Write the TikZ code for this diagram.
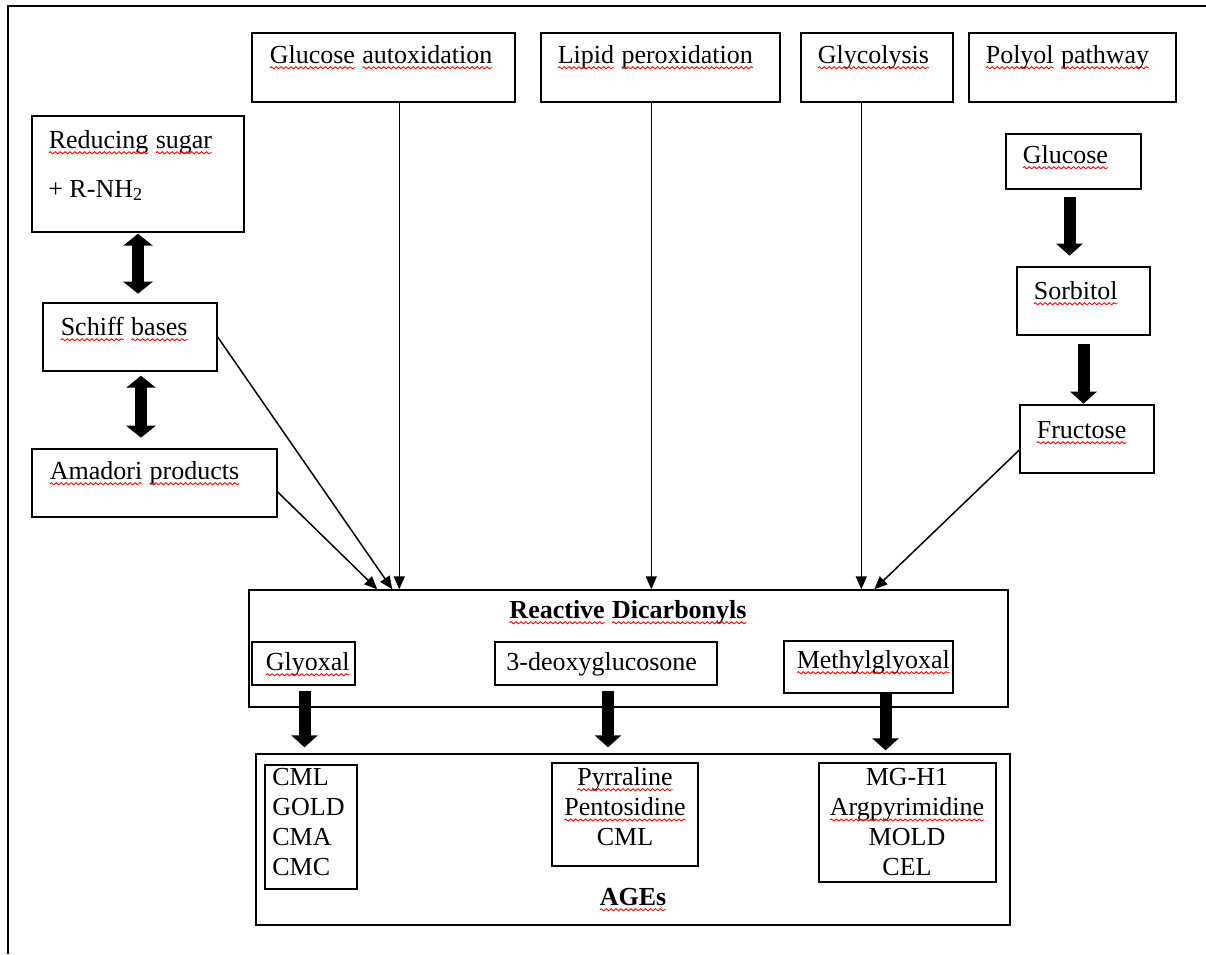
\documentclass[tikz,border=0pt]{standalone}
\usepackage{fontspec}
\setmainfont{Liberation Serif}
\usetikzlibrary{arrows.meta,calc,fit,decorations.pathmorphing}
\newcommand\fs{\fontsize{14.8pt}{17.2pt}\selectfont}
\newcommand\wavy[1]{\tikz[baseline=(w.base)]{\node[inner sep=0pt,outer sep=0pt,draw=none] (w) {#1};
    \draw[spell] ([yshift=-2.7pt]w.base west) -- ([yshift=-2.7pt]w.base east);}}
\tikzset{
  box/.style={
    draw,
    line width=0.8pt,
    inner sep=0pt
  },
  txt/.style={
    inner sep=0pt,
    font=\fs,
    anchor=base west
  },
  spell/.style={
    red,
    line width=0.5pt,
    decorate,
    decoration={snake,amplitude=0.6pt,segment length=2.8pt}
  },
  feed/.style={
    -{Triangle[width=0.22cm,length=0.26cm]},
    line width=0.85pt
  },
  fat/.style={
    -{Triangle[width=0.52cm,length=0.24cm]},
    line width=0.24cm
  },
  fatboth/.style={
    {Triangle[width=0.58cm,length=0.24cm]}-{Triangle[width=0.58cm,length=0.24cm]},
    line width=0.25cm
  }
}

\begin{document}
\begin{tikzpicture}[x=0.02cm,y=-0.02cm]
    \useasboundingbox (0,0) rectangle (1206,954);
    \draw[line width=0.8pt] (8,954) |- (1206,6);

    % sources on top
    \node[box, fit={(252,33) (515,102)}] (gauto) {};
    \node[box, fit={(541,33) (780,102)}] (lipid) {};
    \node[box, fit={(801,33) (953,102)}] (glycol) {};
    \node[box, fit={(969,33) (1176,102)}] (polyol) {};
    \node[txt] (gauto-t) at (269,63) {\wavy{Glucose} \wavy{autoxidation}};
    \node[txt] (lipid-t) at (557,63) {\wavy{Lipid} \wavy{peroxidation}};
    \node[txt] (glycol-t) at (817,63) {\wavy{Glycolysis}};
    \node[txt] (polyol-t) at (985,63) {\wavy{Polyol} \wavy{pathway}};

    % left column
    \node[box, fit={(32,116) (244,232)}] (reducing) {};
    \node[box, fit={(43,303) (217,371)}] (schiff) {};
    \node[box, fit={(32,449) (277,517)}] (amadori) {};
    \node[txt] (reducing-t) at (48,148) {\wavy{Reducing} \wavy{sugar}};
    \node[txt] (amine-t) at (48,197) {+ R-NH\textsubscript{2}};
    \node[txt] (schiff-t) at (60,335) {\wavy{Schiff} \wavy{bases}};
    \node[txt] (amadori-t) at (49,479) {\wavy{Amadori} \wavy{products}};

    % polyol column
    \node[box, fit={(1006,134) (1141,189)}] (glucose) {};
    \node[box, fit={(1017,267) (1150,335)}] (sorbitol) {};
    \node[box, fit={(1020,405) (1154,473)}] (fructose) {};
    \node[txt] (glucose-t) at (1022,163) {\wavy{Glucose}};
    \node[txt] (sorbitol-t) at (1033,299) {\wavy{Sorbitol}};
    \node[txt] (fructose-t) at (1036,438) {\wavy{Fructose}};

    % dicarbonyls
    \node[box, fit={(249,590) (1008,707)}] (reactive) {};
    \node[box, fit={(252,642) (355,685)}] (glyoxal) {};
    \node[box, fit={(495,642) (717,685)}] (deoxy) {};
    \node[box, fit={(784,641) (953,693)}] (methyl) {};
    \node[txt, anchor=base, font=\fs\bfseries] (reactive-t) at (628,618) {\wavy{Reactive} \wavy{Dicarbonyls}};
    \node[txt] (glyoxal-t) at (265,670) {\wavy{Glyoxal}};
    \node[txt] (deoxy-t) at (506,670) {3-deoxyglucosone};
    \node[txt] (methyl-t) at (796,668) {\wavy{Methylglyoxal}};

    % AGEs
    \node[box, fit={(256,754) (1010,925)}] (ages) {};
    \node[box, fit={(265,765) (357,889)}] (cmlbox) {};
    \node[box, fit={(552,763) (698,866)}] (pyrbox) {};
    \node[box, fit={(819,763) (996,882)}] (mgbox) {};
    \foreach \t [count=\i from 0] in {CML,GOLD,CMA,CMC}
        \node[txt] (cml-\i) at (272,{785+30.3*\i}) {\t};
    \foreach \t [count=\i from 0] in {\wavy{Pyrraline},\wavy{Pentosidine},CML}
        \node[txt, anchor=base] (pyr-\i) at (625,{785+30.3*\i}) {\t};
    \foreach \t [count=\i from 0] in {MG-H1,\wavy{Argpyrimidine},MOLD,CEL}
        \node[txt, anchor=base] (mg-\i) at (907,{785+30.3*\i}) {\t};
    \node[txt, anchor=base, font=\fs\bfseries] (ages-t) at (633,905) {\wavy{AGEs}};

    % thin arrows into the dicarbonyls
    \draw[feed] ($(gauto.south west)+(148,0)$) -- ($(reactive.north west)+(151,0)$);
    \draw[feed] ($(lipid.south west)+(111,0)$) -- ($(reactive.north west)+(403,0)$);
    \draw[feed] ($(glycol.south west)+(61,0)$) -- ($(reactive.north west)+(613,0)$);
    \draw[feed] (schiff.east) -- ($(reactive.north west)+(144,0)$);
    \draw[feed] ($(amadori.east)+(0,9)$) -- ($(reactive.north west)+(129,0)$);
    \draw[feed] ($(fructose.west)+(0,11)$) -- ($(reactive.north west)+(626,0)$);

    % thick arrows
    \draw[fatboth] ($(reducing.south)+(0,1)$) -- ($(reducing.south)+(0,61)$);
    \draw[fatboth] ($(schiff.south)+(11,4)$) -- ($(schiff.south)+(11,66)$);
    \draw[fat] ($(glucose.south)+(-4,7)$) -- ($(glucose.south)+(-4,66)$);
    \draw[fat] ($(sorbitol.south)+(0,8)$) -- ($(sorbitol.south)+(0,68)$);
    \draw[fat] ($(glyoxal.south)+(1,5)$) -- ($(ages.north -| glyoxal.south)+(1,-6)$);
    \draw[fat] ($(deoxy.south)+(2,5)$) -- ($(ages.north -| deoxy.south)+(2,-6)$);
    \draw[fat] ($(methyl.south)+(17,0)$) -- ($(ages.north -| methyl.south)+(17,-3)$);
\end{tikzpicture}
\end{document}
